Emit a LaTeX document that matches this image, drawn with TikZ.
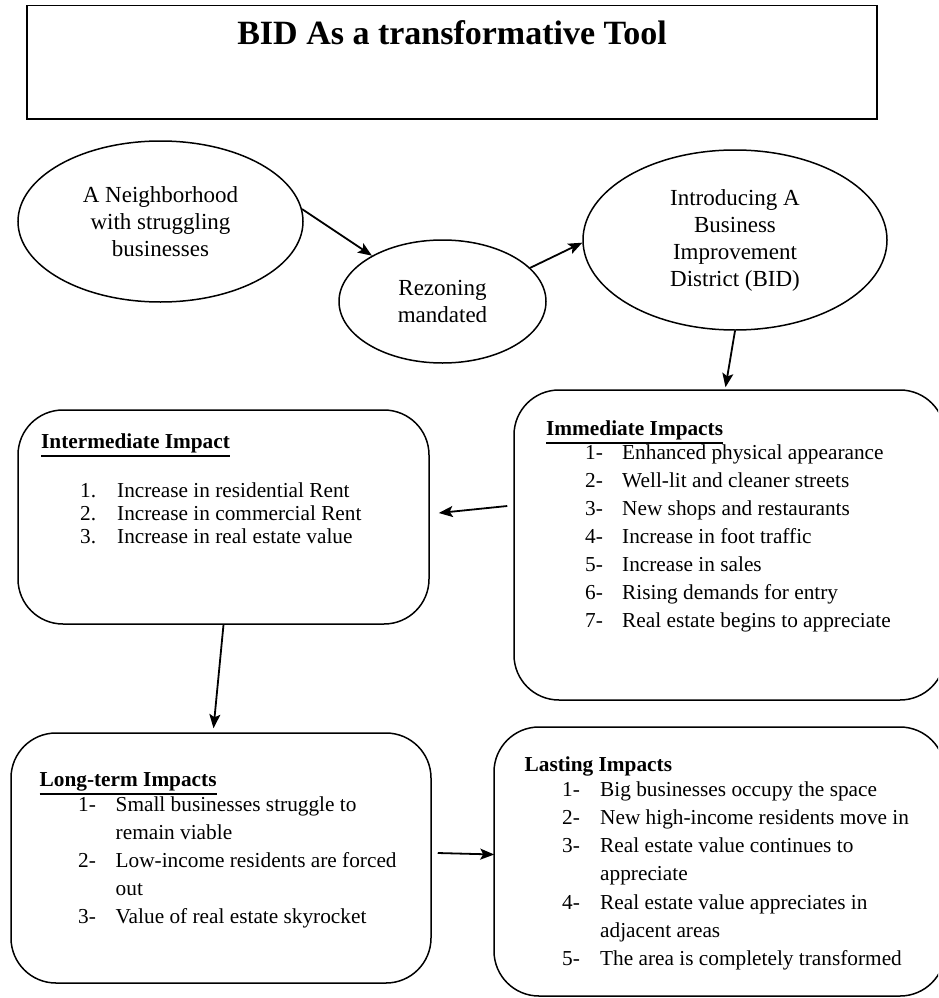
\documentclass[tikz,border=0pt]{standalone}
\usepackage{fontspec}
\setmainfont{Liberation Serif}
\usetikzlibrary{shapes.geometric,arrows.meta}

\newcommand\bodyfont{\fontsize{21.3}{26}\selectfont}
\newcommand\bubblefont{\fontsize{23}{27}\selectfont}
\newcommand\titlefont{\fontsize{34}{40}\selectfont\bfseries}
\newcommand\numline[3]{\makebox[#1][l]{#2}#3}
\newcommand\headul[1]{\leavevmode\vtop{\hbox{#1}\kern2.5pt\hrule height 1.8pt}}

\tikzset{
  bubble/.style={draw, ellipse, line width=1.5pt, inner sep=0pt, align=center, font=\bubblefont},
  impactbox/.style={draw, rounded corners=45pt, line width=1.5pt, inner sep=0pt},
  line/.style={anchor=base west, inner sep=0pt, font=\bodyfont},
  head/.style={anchor=base west, inner sep=0pt, font=\bodyfont\bfseries},
  arr/.style={line width=1.8pt, -{Stealth[length=14pt,width=11pt,inset=3pt]}}
}

\begin{document}
\begin{tikzpicture}[x=1pt,y=-1pt]
    \useasboundingbox (0,0) rectangle (938,998);
    \clip (0,0) rectangle (938,998);
    % title
    \node[draw, line width=1.5pt, minimum width=850pt, minimum height=113pt, anchor=north] (titlebox) at (452,5) {};
    \node[anchor=base, font=\titlefont] (title) at (452,45) {BID As a transformative Tool};
    % the three bubbles
    \node[bubble, minimum width=285pt, minimum height=161pt] (neigh) at (160.5,221.5) {A Neighborhood\\with struggling\\businesses};
    \node[bubble, minimum width=207pt, minimum height=123pt] (rezon) at (442.5,301.5) {Rezoning\\mandated};
    \node[bubble, minimum width=304pt, minimum height=180pt] (intro) at (735,240) {Introducing A\\Business\\Improvement\\District (BID)};
    % impact boxes
    \node[impactbox, minimum width=431pt, minimum height=310pt] (imm) at (729.5,545) {};
    \node[impactbox, minimum width=411pt, minimum height=214pt] (inter) at (223.5,517) {};
    \node[impactbox, minimum width=420pt, minimum height=250pt] (long) at (221,858) {};
    \node[impactbox, minimum width=451pt, minimum height=269pt] (last) at (719.5,861.5) {};
    % immediate
    \node[head] (imm-h) at (546,435) {\headul{Immediate Impacts}};
    \foreach \t [count=\i] in {Enhanced physical appearance, Well-lit and cleaner streets,
        New shops and restaurants, Increase in foot traffic, Increase in sales,
        Rising demands for entry, Real estate begins to appreciate}
        \node[line] (imm-\i) at (585,431+28*\i) {\numline{37pt}{\i-}{\t}};
    % intermediate
    \node[head] (inter-h) at (41,448) {\headul{Intermediate Impact}};
    \foreach \t [count=\i] in {Increase in residential Rent, Increase in commercial Rent,
        Increase in real estate value}
        \node[line] (inter-\i) at (80,474+23*\i) {\numline{37pt}{\i.}{\t}};
    % long-term
    \node[head] (long-h) at (39.5,786) {\headul{Long-term Impacts}};
    \foreach \n/\t [count=\i] in {1-/Small businesses struggle to, /remain viable,
        2-/Low-income residents are forced, /out, 3-/Value of real estate skyrocket}
        \node[line] (long-\i) at (78,783+28*\i) {\numline{37.5pt}{\n}{\t}};
    % lasting
    \node[head] (last-h) at (524.5,771) {Lasting Impacts};
    \foreach \n/\t [count=\i] in {1-/Big businesses occupy the space, 2-/New high-income residents move in,
        3-/Real estate value continues to, /appreciate, 4-/Real estate value appreciates in,
        /adjacent areas, 5-/The area is completely transformed}
        \node[line] (last-\i) at (562,768+28.2*\i) {\numline{38pt}{\n}{\t}};
    % arrows
    \draw[arr] (neigh.5.5) -- (rezon.147);
    \draw[arr] (rezon.21) -- (intro.181);
    \draw[arr] (intro.south) -- ([xshift=-4pt,yshift=2pt]imm.north);
    \draw[arr] ([xshift=-6pt,yshift=39pt]imm.west) -- ([xshift=9pt,yshift=4pt]inter.east);
    \draw[arr] (inter.south) -- ([xshift=-7.5pt,yshift=4pt]long.north);
    \draw[arr] ([xshift=6pt,yshift=5pt]long.east) -- ([xshift=1pt,yshift=7pt]last.west);
\end{tikzpicture}
\end{document}
